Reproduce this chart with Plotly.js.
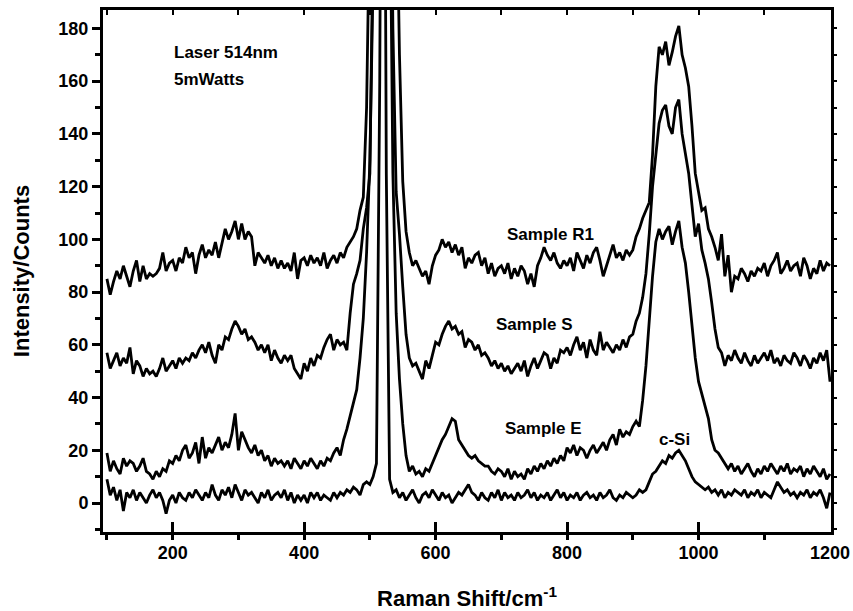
<!DOCTYPE html>
<html>
<head>
<meta charset="utf-8">
<script src="https://cdn.plot.ly/plotly-3.0.1.min.js"></script>
<style>html,body{margin:0;padding:0;background:#fff;}#chart{width:853px;height:611px;}</style>
</head>
<body>
<div id="chart"></div>
<script>
// Raman shift (cm^-1)
const shift = [
100,105,110,115,120,125,130,135,140,145,150,155,160,165,170,175,180,185,190,195,
200,205,210,215,220,225,230,235,240,245,250,255,260,265,270,275,280,285,290,295,
300,305,310,315,320,325,330,335,340,345,350,355,360,365,370,375,380,385,390,395,
400,405,410,415,420,425,430,435,440,445,450,455,460,465,470,475,480,485,490,495,
500,505,510,515,520,525,530,535,540,545,550,555,560,565,570,575,580,585,590,595,
600,605,610,615,620,625,630,635,640,645,650,655,660,665,670,675,680,685,690,695,
700,705,710,715,720,725,730,735,740,745,750,755,760,765,770,775,780,785,790,795,
800,805,810,815,820,825,830,835,840,845,850,855,860,865,870,875,880,885,890,895,
900,905,910,915,920,925,930,935,940,945,950,955,960,965,970,975,980,985,990,995,
1000,1005,1010,1015,1020,1025,1030,1035,1040,1045,1050,1055,1060,1065,1070,1075,1080,1085,1090,1095,
1100,1105,1110,1115,1120,1125,1130,1135,1140,1145,1150,1155,1160,1165,1170,1175,1180,1185,1190,1195,1200
];

const sampleR1 = [
85,79,84,88,85,90,86,82,88,92,84,90,85,87,86,87,89,95,88,91,
92,88,93,91,97,93,95,87,94,98,93,96,94,99,93,98,104,100,103,107,
100,106,100,103,101,90,95,93,91,94,90,93,89,92,89,91,88,95,85,92,
93,90,94,91,93,90,95,89,92,94,91,95,93,97,99,101,104,111,116,150,
230,320,420,500,520,480,400,320,240,170,122,103,95,90,92,89,86,88,83,90,
94,96,100,97,99,95,98,94,97,89,93,91,94,95,90,93,87,91,86,89,
90,87,91,85,89,86,90,88,83,87,82,90,93,97,94,92,95,91,89,92,
90,93,88,95,92,89,94,91,95,97,92,86,90,94,98,93,95,92,96,94,
96,101,104,108,111,114,132,158,173,170,175,166,171,177,181,170,165,158,143,125,
118,111,112,104,101,97,92,102,86,94,80,86,85,89,87,84,88,86,89,88,
91,86,90,92,95,87,89,92,88,90,91,86,93,90,85,89,87,92,88,91,90
];

const sampleS = [
57,51,54,57,52,55,53,59,49,54,52,48,51,49,50,48,51,55,50,52,
54,51,55,53,55,54,57,55,58,60,57,61,56,53,60,58,63,62,66,69,
67,64,66,62,63,61,58,60,57,60,54,58,55,53,56,54,56,51,49,47,
53,50,55,52,56,55,59,62,64,58,62,60,61,58,72,83,87,92,104,112,
125,190,300,420,500,420,300,180,118,102,82,64,55,52,53,50,47,54,51,56,
61,60,64,67,69,66,67,64,65,59,62,61,58,60,56,57,55,52,54,51,
53,50,52,49,51,53,50,54,48,52,55,51,54,57,56,51,55,53,58,57,
59,56,60,63,58,61,55,62,58,56,65,58,61,59,57,60,58,62,59,63,
64,69,72,78,87,102,120,132,144,149,151,143,140,150,153,140,133,125,113,101,
106,96,91,85,76,66,59,57,52,56,54,58,55,53,57,54,52,56,53,55,
57,54,58,53,55,52,56,54,53,57,55,52,56,54,51,55,53,57,54,58,46
];

const sampleE = [
19,12,16,13,11,17,14,16,15,12,14,17,12,11,9,12,10,13,12,16,
15,18,16,20,22,17,19,23,15,25,17,21,19,22,25,20,23,21,26,34,
20,27,24,21,19,22,18,20,16,18,14,17,15,16,14,16,13,17,15,13,
16,14,17,15,13,16,14,17,16,19,21,18,24,28,33,37,43,55,70,95,
130,200,300,450,500,400,250,125,72,47,30,18,12,14,11,12,10,13,12,15,
18,21,24,26,29,32,31,24,22,20,18,17,18,16,15,14,14,12,11,13,
12,10,13,9,12,10,11,9,13,11,14,12,15,13,16,14,17,15,18,16,
21,19,22,18,21,20,17,20,22,19,21,23,20,24,26,22,28,25,27,26,
29,31,29,39,52,70,86,99,104,100,103,105,98,103,107,97,91,80,67,55,
46,41,37,32,24,20,19,17,15,13,15,12,14,11,13,15,12,10,13,11,
14,12,15,13,11,14,12,15,11,13,12,14,10,13,11,14,12,10,13,9,11
];

const cSi = [
9,3,6,1,5,-3,4,2,5,1,4,2,0,3,5,2,4,1,-4,1,
3,0,4,2,1,4,2,5,3,1,4,2,7,3,1,5,3,6,2,7,
4,1,5,3,4,2,0,4,2,5,1,3,4,2,5,1,4,0,3,1,
3,0,4,2,4,1,3,2,1,4,2,4,3,5,4,6,5,3,7,8,
7,10,15,160,420,125,9,4,5,2,4,1,3,5,2,0,3,4,2,5,
3,1,4,2,3,0,2,4,3,5,7,4,3,1,4,2,1,4,2,5,
1,4,2,3,1,4,2,3,5,2,4,1,3,2,4,1,3,5,2,4,
1,3,2,4,1,3,4,2,3,1,4,2,3,5,2,1,3,2,4,3,
2,3,5,4,5,8,11,12,14,16,15,18,17,19,20,18,16,13,10,8,
7,6,5,6,4,5,3,5,2,4,3,5,4,3,5,2,4,3,5,2,
4,3,2,5,8,6,4,5,3,4,2,4,3,5,2,4,3,5,2,-2,4
];

const seriesNames = ['Sample R1', 'Sample S', 'Sample E', 'c-Si'];
const seriesValues = [sampleR1, sampleS, sampleE, cSi];

const labelText = ['Sample R1', 'Sample S', 'Sample E', 'c-Si', 'Laser 514nm', '5mWatts'];
const labelX = [775, 750, 764, 964, 199, 199];
const labelY = [101.7, 67.7, 28.2, 24, 170.8, 160.6];
const labelAnchor = ['center', 'center', 'center', 'center', 'left', 'left'];

const FONT = 'Liberation Sans, Arial, Helvetica, sans-serif';

const traces = seriesValues.map((vals, i) => ({
  type: 'scatter', mode: 'lines', name: seriesNames[i],
  x: shift, y: vals,
  line: {color: '#000', width: 2.8},
  hoverinfo: 'x+y+name'
}));
// empty trace so the mirrored tick axes are drawn
traces.push({type: 'scatter', mode: 'lines', x: [], y: [], xaxis: 'x2', yaxis: 'y2', showlegend: false, hoverinfo: 'skip'});

const annotations = labelText.map((t, i) => ({
  text: t, x: labelX[i], y: labelY[i], xref: 'x', yref: 'y',
  xanchor: labelAnchor[i], yanchor: 'middle', showarrow: false,
  font: {family: FONT, size: 17, color: '#000', weight: 'bold'}
}));

const layout = {
  width: 853, height: 611,
  margin: {l: 103, r: 22, t: 10, b: 79, pad: 0},
  paper_bgcolor: '#fff', plot_bgcolor: '#fff',
  showlegend: false,
  font: {family: FONT, size: 18, color: '#000', weight: 'bold'},
  xaxis: {
    range: [94, 1201.5], tick0: 0, dtick: 200,
    ticks: 'inside', ticklen: 10, tickwidth: 2.5, tickcolor: '#000',
    minor: {tick0: 0, dtick: 100, ticks: 'outside', ticklen: 5, tickwidth: 2.5, tickcolor: '#000', showgrid: false},
    showline: true, linewidth: 3, linecolor: '#000', mirror: true,
    showgrid: false, zeroline: false,
    tickfont: {family: FONT, size: 18, color: '#000', weight: 'bold'},
    ticklabelstandoff: 2,
    title: {text: 'Raman Shift/cm<sup>-1</sup>', font: {family: FONT, size: 22, color: '#000', weight: 'bold'}, standoff: 30}
  },
  xaxis2: {
    overlaying: 'x', side: 'top', range: [94, 1201.5], tick0: 0, dtick: 100,
    ticks: 'inside', ticklen: 5, tickwidth: 2, tickcolor: '#000',
    showticklabels: false, showgrid: false, zeroline: false, showline: false
  },
  yaxis: {
    range: [-11, 187], tick0: 0, dtick: 20,
    ticks: 'outside', ticklen: 8, tickwidth: 2.5, tickcolor: '#000',
    minor: {tick0: 0, dtick: 10, ticks: 'outside', ticklen: 5, tickwidth: 2.5, tickcolor: '#000', showgrid: false},
    showline: true, linewidth: 3, linecolor: '#000', mirror: true,
    showgrid: false, zeroline: false,
    tickfont: {family: FONT, size: 18, color: '#000', weight: 'bold'},
    title: {text: 'Intensity/Counts', font: {family: FONT, size: 22, color: '#000', weight: 'bold'}, standoff: 23}
  },
  yaxis2: {
    overlaying: 'y', side: 'right', range: [-11, 187], tick0: 0, dtick: 10,
    ticks: 'outside', ticklen: 5, tickwidth: 2, tickcolor: '#000',
    showticklabels: false, showgrid: false, zeroline: false, showline: false
  },
  annotations: annotations
};

Plotly.newPlot('chart', traces, layout, {displayModeBar: false, responsive: false});
</script>
</body>
</html>
